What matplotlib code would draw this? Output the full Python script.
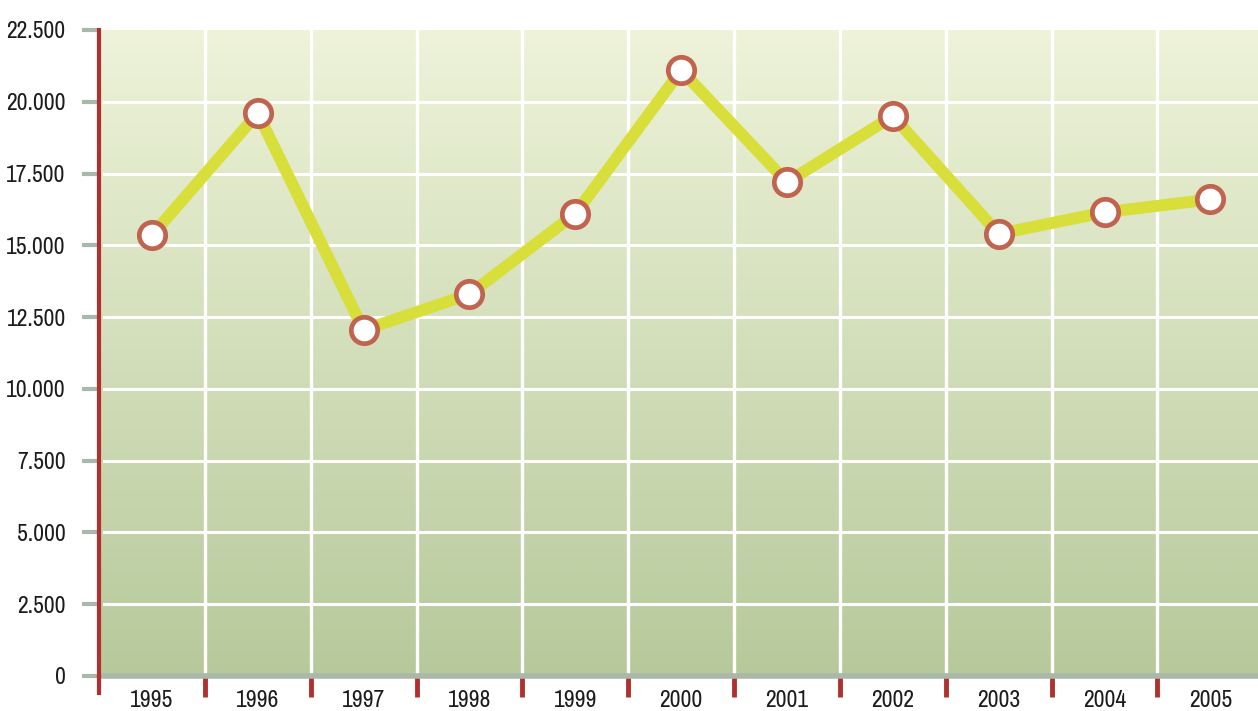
import matplotlib
matplotlib.use("Agg")
import matplotlib.pyplot as plt
from matplotlib import font_manager
import numpy as np
from matplotlib.ticker import FixedLocator, FuncFormatter
from matplotlib.colors import LinearSegmentedColormap

# look for a narrow / condensed face, else fall back to DejaVu
narrow = [f.name for f in font_manager.fontManager.ttflist
          if "Narrow" in f.name or "Condensed" in f.name]
plt.rcParams["font.family"] = (narrow[:1] or []) + ["DejaVu Sans"]

years = ["1995", "1996", "1997", "1998", "1999", "2000",
         "2001", "2002", "2003", "2004", "2005"]
values = [15350, 19600, 12050, 13300, 16100, 21100,
          17200, 19500, 15400, 16150, 16600]
yticks = [0, 2500, 5000, 7500, 10000, 12500, 15000, 17500, 20000, 22500]

W, H = 1258, 711
fig = plt.figure(figsize=(W / 100, H / 100), dpi=100)
ax = fig.add_axes([99 / W, (H - 676) / H, (W - 99) / W, (676 - 30) / H])

x = np.arange(len(years))
ax.set_xlim(-0.5, 10.45)
ax.set_ylim(0, 22500)

# background gradient
cmap = LinearSegmentedColormap.from_list("bg", ["#b7c99b", "#eef3d9"])
grad = np.linspace(0, 1, 256).reshape(-1, 1)
ax.imshow(grad, extent=[-0.5, 10.45, 0, 22500], origin="lower",
          aspect="auto", cmap=cmap, zorder=0)

# grid
for yv in yticks[1:-1]:
    ax.plot([-0.45, 10.45], [yv, yv], color="white", lw=2.2, zorder=1)
for xb in np.arange(0.5, 10.5, 1):
    ax.axvline(xb, color="white", lw=2.4, zorder=1)

# base line at zero
ax.plot([-0.5, 10.45], [0, 0], color="#a9b8a8", lw=4, zorder=2,
        clip_on=False, solid_capstyle="butt")

ax.plot(x, values, color="#d8df3a", lw=8.5, zorder=3,
        solid_capstyle="round")
ax.plot(x, values, ls="none", marker="o", ms=19, mfc="white",
        mec="#c0644f", mew=3.4, zorder=4)

# spines
for s in ["top", "right", "bottom"]:
    ax.spines[s].set_visible(False)
ax.spines["left"].set_color("#b03030")
ax.spines["left"].set_linewidth(3)
ax.spines["left"].set_zorder(5)

# red spine extension below the axis
ax.plot([-0.5, -0.5], [0, -650], color="#b03030", lw=3, clip_on=False,
        zorder=5, solid_capstyle="butt")

fs = 17 if narrow else 13

# y ticks
ax.yaxis.set_major_locator(FixedLocator(yticks))
ax.yaxis.set_major_formatter(
    FuncFormatter(lambda v, p: f"{int(v):,}".replace(",", ".")))
ax.tick_params(axis="y", length=12, width=3, color="#a9b8a8", pad=12,
               labelsize=fs, labelcolor="#1c1c1c")

# x ticks
ax.set_xticks(x)
ax.set_xticklabels(years)
ax.set_xticks(np.arange(0.5, 10.5, 1), minor=True)
ax.tick_params(axis="x", which="major", length=0, pad=10,
               labelsize=fs, labelcolor="#1c1c1c")
ax.tick_params(axis="x", which="minor", length=15, width=3.5,
               color="#b03030")

fig.savefig("out.png", dpi=100)
